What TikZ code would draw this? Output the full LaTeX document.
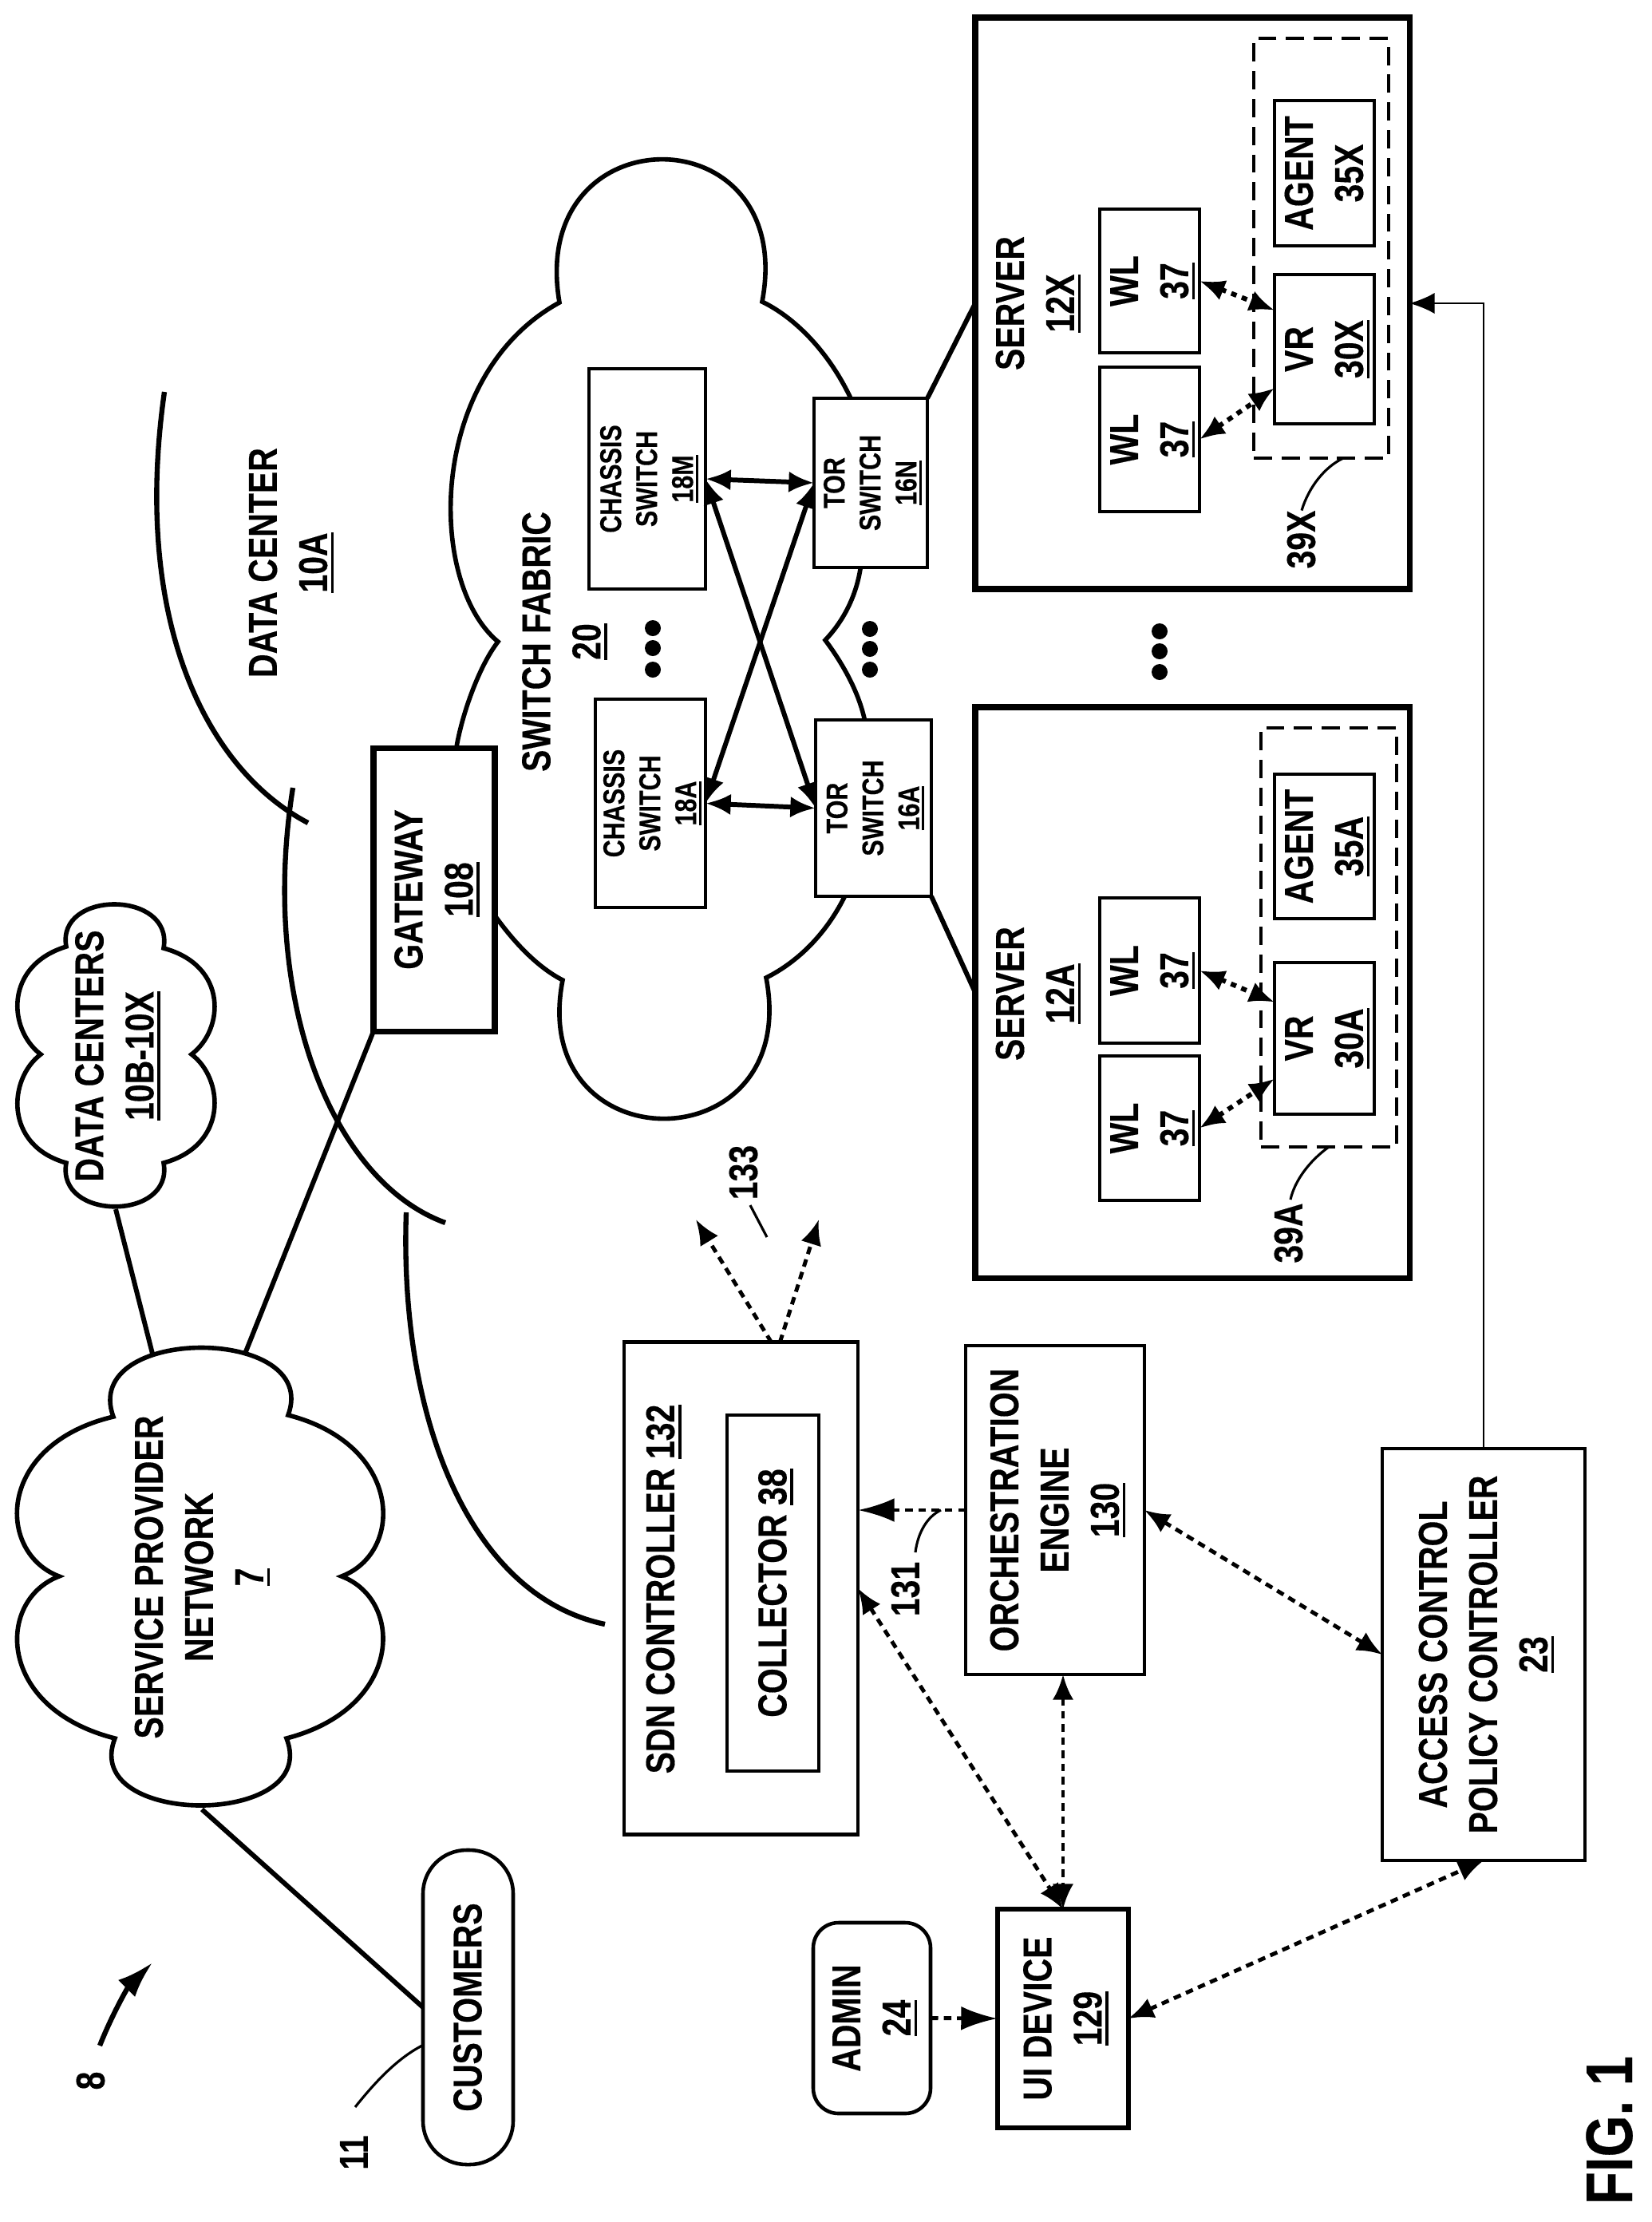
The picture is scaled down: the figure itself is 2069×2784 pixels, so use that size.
\documentclass[tikz,border=0pt]{standalone}
\usepackage{fontspec}
\setmainfont{Liberation Sans}[FakeStretch=0.81,BoldFeatures={FakeBold=0.3}]
\usetikzlibrary{arrows.meta}

% upright text turned a quarter, lines centred
\newcommand{\vtext}[1]{\makebox[0pt]{\rotatebox{90}{\setbox0\hbox{\begin{tabular}{@{}c@{}}#1\end{tabular}}\raisebox{0pt}[\dimexpr\ht0+.17em\relax][\dp0]{\copy0}}}}
\newcommand{\ulab}[1]{\setbox0\hbox{#1}\leavevmode\rlap{\rule[-.17em]{\wd0}{.07em}}\box0}

\tikzset{
	bigtxt/.style={font=\bfseries\fontsize{14.4}{17.9}\selectfont,inner sep=0pt,outer sep=0pt},
	smalltxt/.style={font=\bfseries\fontsize{10.7}{12.8}\selectfont,inner sep=0pt,outer sep=0pt},
	sz/.style 2 args={minimum width=#1*0.01cm,minimum height=#2*0.01cm},
	box/.style={bigtxt,draw,fill=white,line width=1.3pt},
	smallbox/.style={smalltxt,draw,fill=white,line width=1.2pt},
	heavybox/.style={bigtxt,draw,fill=white,line width=2pt},
	dashbox/.style={draw,line width=1pt,inner sep=0pt,outer sep=0pt,dash pattern=on 6.5pt off 3.4pt},
	arc/.style={line width=1.8pt},
	cloudline/.style={line width=1.6pt},
	link/.style={line width=1.7pt},
	dots/.style={line width=1.4pt,dash pattern=on 2.7pt off 2pt},
	dotsb/.style={line width=1.7pt,dash pattern=on 2pt off 2pt},
	lead/.style={line width=.9pt},
	bighead/.style={-{Latex[length=13pt,width=8.5pt]}}
}

\begin{document}
\begin{tikzpicture}[x=0.01cm,y=-0.01cm,>={Latex[length=9pt,width=7.5pt]}]
	\useasboundingbox (0,0) rectangle (2069,2784);

	% switch fabric cloud, the boxes sit on top of it
	\draw[cloudline] (572,936) .. controls (579,895) and (600,835) .. (624,804)
		.. controls (535,730) and (535,470) .. (701,379)
		.. controls (660,140) and (1000,140) .. (955,378)
		.. controls (1000,400) and (1040,445) .. (1065,497)
		.. controls (1090,560) and (1090,660) .. (1078,713)
		.. controls (1072,750) and (1055,780) .. (1034,802)
		.. controls (1055,830) and (1075,865) .. (1083,900)
		.. controls (1090,960) and (1085,1060) .. (1058,1124)
		.. controls (1035,1170) and (1000,1205) .. (960,1225)
		.. controls (1005,1460) and (660,1460) .. (705,1228)
		.. controls (670,1210) and (640,1175) .. (620,1147)
		-- (572,1100) -- cycle;

	% other clouds
	\draw[cloudline] (83,1186) .. controls (70,1115) and (218,1115) .. (205,1188)
		.. controls (286,1210) and (281,1290) .. (240,1321)
		.. controls (281,1352) and (286,1435) .. (205,1457)
		.. controls (218,1530) and (70,1530) .. (83,1457)
		.. controls (5,1435) and (10,1352) .. (51,1321)
		.. controls (10,1290) and (5,1210) .. (83,1186) -- cycle;
	\draw[cloudline] (142,1775) .. controls (100,1660) and (403,1660) .. (361,1773)
		.. controls (505,1810) and (507,1945) .. (428,1975)
		.. controls (507,2005) and (505,2140) .. (359,2178)
		.. controls (403,2290) and (100,2290) .. (144,2178)
		.. controls (-5,2140) and (-5,2005) .. (74,1975)
		.. controls (-5,1945) and (-5,1810) .. (142,1775) -- cycle;

	% data center outline
	\draw[arc] (206,491) .. controls (165,780) and (260,965) .. (386,1031);
	\draw[arc] (367,987) .. controls (325,1250) and (415,1480) .. (558,1532);
	\draw[arc] (509,1519) .. controls (500,1780) and (590,2000) .. (758,2035);

	\coordinate (dctop) at (145,1515);
	\coordinate (sptopa) at (191,1696);
	\coordinate (sptopb) at (307,1696);
	\coordinate (spbot) at (253,2267);

	% boxes
	\node[heavybox,sz={152}{355}] (gateway) at (544,1114.5) {\vtext{GATEWAY\\\ulab{108}}};
	\node[smallbox,sz={146}{276}] (chassism) at (811,600) {\vtext{CHASSIS\\SWITCH\\\ulab{18M}}};
	\node[smallbox,sz={138}{261}] (chassisa) at (815,1006.5) {\vtext{CHASSIS\\SWITCH\\\ulab{18A}}};
	\node[smallbox,sz={142}{212}] (torn) at (1091,605) {\vtext{TOR\\SWITCH\\\ulab{16N}}};
	\node[smallbox,sz={145}{221}] (tora) at (1094.5,1012.5) {\vtext{TOR\\SWITCH\\\ulab{16A}}};

	\node[heavybox,sz={544}{716}] (serverx) at (1494,380) {};
	\node[heavybox,sz={544}{715}] (servera) at (1494,1243.5) {};
	\node[bigtxt] (serverxlbl) at (1297.5,380) {\vtext{SERVER\\\ulab{12X}}};
	\node[bigtxt] (serveralbl) at (1297.5,1245) {\vtext{SERVER\\\ulab{12A}}};

	\node[dashbox,sz={169}{526}] (dashx) at (1655.5,311) {};
	\node[dashbox,sz={170}{525}] (dasha) at (1665,1174.5) {};

	\node[box,sz={125}{180}] (wlxa) at (1440.5,352) {\vtext{WL\\\ulab{37}}};
	\node[box,sz={125}{181}] (wlxb) at (1440.5,550.5) {\vtext{WL\\\ulab{37}}};
	\node[box,sz={125}{182}] (agentx) at (1659.5,217) {\vtext{AGENT\\35X}};
	\node[box,sz={125}{187}] (vrx) at (1659.5,437.5) {\vtext{VR\\\ulab{30X}}};
	\node[box,sz={125}{182}] (wlaa) at (1440.5,1216) {\vtext{WL\\\ulab{37}}};
	\node[box,sz={125}{181}] (wlab) at (1440.5,1413.5) {\vtext{WL\\\ulab{37}}};
	\node[box,sz={125}{181}] (agenta) at (1659.5,1060.5) {\vtext{AGENT\\\ulab{35A}}};
	\node[box,sz={125}{190}] (vra) at (1659.5,1301) {\vtext{VR\\\ulab{30A}}};

	\node[box,sz={293}{617}] (sdn) at (928.5,1990) {};
	\node[bigtxt] (sdnlbl) at (828,1991) {\vtext{SDN CONTROLLER \ulab{132}}};
	\node[box,sz={115}{446}] (collector) at (968.5,1996) {\vtext{COLLECTOR \ulab{38}}};
	\node[box,sz={224}{412}] (orch) at (1322,1892) {\vtext{ORCHESTRATION\\ENGINE\\\ulab{130}}};
	\node[box,sz={254}{516}] (acpc) at (1859,2073) {\vtext{ACCESS CONTROL\\POLICY CONTROLLER\\\ulab{23}}};
	\node[box,sz={164}{274},line width=1.6pt] (uidev) at (1332,2529) {\vtext{UI DEVICE\\\ulab{129}}};
	\node[box,sz={147}{239},rounded corners=9pt] (admin) at (1092.5,2528.5) {\vtext{ADMIN\\\ulab{24}}};
	\node[box,sz={113}{394},rounded corners=15.5pt] (customers) at (586.5,2515) {\vtext{CUSTOMERS}};

	% free labels
	\node[bigtxt] (fabric) at (704,804) {\vtext{SWITCH FABRIC\\\ulab{20}}};
	\node[bigtxt] (dca) at (361.5,705) {\vtext{DATA CENTER\\\ulab{10A}}};
	\node[bigtxt] (dcs) at (144,1323) {\vtext{DATA CENTERS\\\ulab{10B-10X}}};
	\node[bigtxt] (spn) at (250,1976) {\vtext{SERVICE PROVIDER\\NETWORK\\\ulab{7}}};
	\node[bigtxt] (lbl39x) at (1631,676) {\vtext{39X}};
	\node[bigtxt] (lbl39a) at (1615,1545) {\vtext{39A}};
	\node[bigtxt] (lbl133) at (932,1469) {\vtext{133}};
	\node[bigtxt] (lbl131) at (1135,1991) {\vtext{131}};
	\node[bigtxt] (lbl11) at (444,2697) {\vtext{11}};
	\node[bigtxt] (lbl8) at (114,2607) {\vtext{8}};
	\node[font=\bfseries\fontsize{23.5}{27}\selectfont,inner sep=0pt] (figlbl) at (2019,2669) {\vtext{FIG. 1}};

	% solid links
	\draw[link] (dctop) -- (sptopa);
	\draw[link] (gateway.south west) -- (sptopb);
	\draw[link] (spbot) -- (customers.west);
	\draw[link] (torn.north east) -- (serverx.west);
	\draw[link] (tora.south east) -- (servera.west);
	\draw[link,<->] (chassism.east) -- (torn.west);
	\draw[link,<->] (chassisa.east) -- (tora.west);
	\draw[link,<->] (chassism.east) -- (tora.west);
	\draw[link,<->] (chassisa.east) -- (torn.west);
	\draw[line width=.8pt,->] (acpc.north) |- (serverx.east);

	% dotted links
	\draw[dotsb,<->] (wlxa.east) -- (vrx.142);
	\draw[dotsb,<->] (wlxb.east) -- (vrx.-142);
	\draw[dotsb,<->] (wlaa.east) -- (vra.144);
	\draw[dotsb,<->] (wlab.east) -- (vra.-141);
	\coordinate (tipa) at (872,1528);
	\coordinate (tipb) at (1026,1528);
	\draw[dots,->] (sdn.83) -- (tipa);
	\draw[dots,->] (sdn.81) -- (tipb);
	\draw[dots,bighead] (orch.west) -- (orch.west -| sdn.east);
	\draw[dots,bighead] (admin.east) -- (uidev.west);
	\draw[dots,<->] (sdn.east) -- (uidev.north);
	\draw[dots,<->] (orch.south -| uidev.north) -- (uidev.north);
	\draw[dots,<->] (orch.east) -- (acpc.west);
	\draw[dots,<->] (uidev.east) -- (acpc.south);

	% reference leaders
	\coordinate (lead133a) at (940,1510);
	\coordinate (lead133b) at (961,1550);
	\coordinate (lead131a) at (1147,1945);
	\coordinate (lead131b) at (1179,1892);
	\coordinate (lead39a) at (1617,1503);
	\coordinate (lead11) at (445,2640);
	\coordinate (lead8a) at (125,2563);
	\coordinate (lead8b) at (191,2459);
	\draw[lead] (lbl39x.north) .. controls (1640,610) and (1660,585) .. (dashx.-84);
	\draw[lead] (lead39a) .. controls (1622,1480) and (1640,1455) .. (dasha.south);
	\draw[lead] (lead133a) -- (lead133b);
	\draw[lead] (lead131a) .. controls (1150,1920) and (1162,1900) .. (lead131b);
	\draw[lead] (lead11) .. controls (465,2615) and (495,2580) .. (customers.220);
	\draw[line width=1.8pt,bighead] (lead8a) .. controls (140,2525) and (160,2490) .. (lead8b);

	% ellipsis
	\foreach \x/\ya/\yb/\yc in {818/787/812/839,1090/788/813/839,1453/791/816/842}
		\foreach \y in {\ya,\yb,\yc}
			\fill (\x,\y) circle (10);
\end{tikzpicture}
\end{document}
